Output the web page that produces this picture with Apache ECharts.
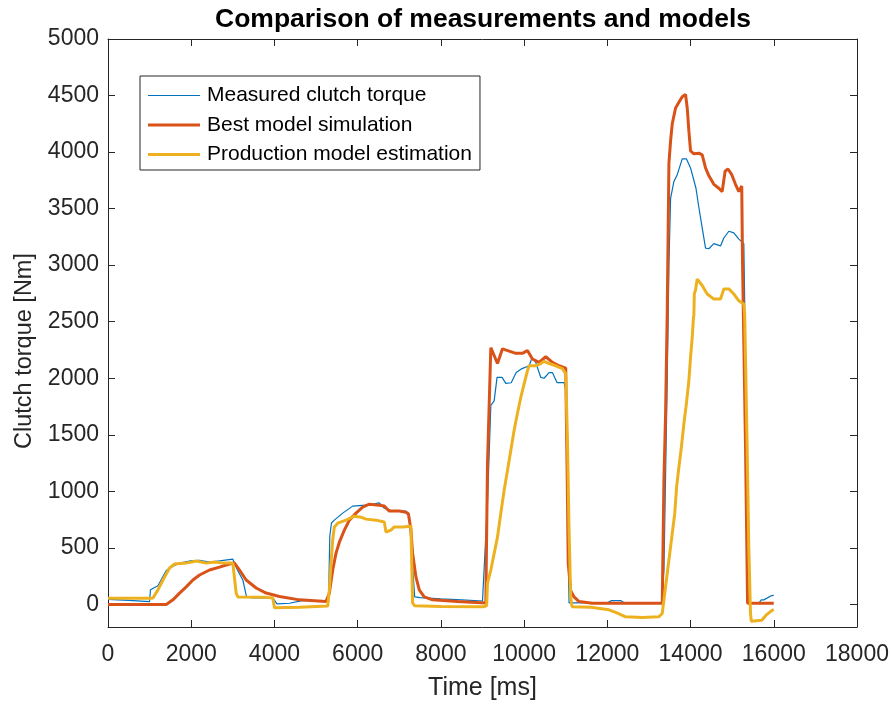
<!DOCTYPE html>
<html>
<head>
<meta charset="utf-8">
<script src="https://cdn.jsdelivr.net/npm/echarts@6/dist/echarts.min.js"></script>
<style>
  html, body { margin: 0; padding: 0; background: #fff; }
  #chart { width: 891px; height: 704px; }
</style>
</head>
<body>
<div id="chart"></div>
<script>
// tick values
const xTicks = [0, 2000, 4000, 6000, 8000, 10000, 12000, 14000, 16000, 18000];
const yTicks = [0, 500, 1000, 1500, 2000, 2500, 3000, 3500, 4000, 4500, 5000];

// measured clutch torque
const measuredT = [0, 500, 1000, 1020, 1200, 1400, 1530, 1720, 1960, 2200, 2440, 2680, 3000, 3040, 3110, 3240, 3330, 3480, 3960, 4060, 4360, 4700, 5000, 5300,
  5330, 5370, 5440, 5640, 5880, 6200, 6520, 6640, 6840, 7160, 7240, 7290, 7370, 7500, 8000, 8500, 9000, 9040,
  9120, 9200, 9280, 9350, 9470, 9560, 9690, 9810, 9950, 10120, 10190, 10280, 10400, 10480, 10600, 10680, 10790, 10960, 11000, 11080, 11200, 11600, 12000, 12100, 12330, 12400, 13000, 13300,
  13360, 13440, 13480, 13520, 13600, 13680, 13800, 13900, 14000, 14130, 14200, 14280, 14360, 14440, 14560, 14720, 14800, 14920, 15040, 15160, 15280, 15300, 15320, 15370, 15500, 15650, 15700, 15760, 15950, 16000];
const measuredV = [45, 35, 25, 130, 165, 300, 330, 366, 384, 390, 375, 384, 400, 400, 304, 216, 66, 57, 57, 5, 10, 35, 30, 30,
  600, 720, 745, 807, 869, 877, 898, 850, 825, 825, 800, 507, 66, 60, 48, 40, 30, 30,
  900, 1760, 1800, 2007, 2007, 1955, 1960, 2050, 2085, 2110, 2180, 2140, 2007, 2000, 2050, 2050, 1962, 1962, 1900, 13, 13, 15, 15, 33, 33, 15, 15, 15,
  300, 2000, 3000, 3590, 3740, 3800, 3940, 3940, 3860, 3680, 3510, 3330, 3150, 3145, 3190, 3170, 3240, 3300, 3285, 3230, 3190, 2700, 1400, 13, 15, 15, 40, 40, 78, 80];

// best model simulation
const bestT = [0, 1400, 1560, 1720, 1880, 2040, 2200, 2440, 2680, 2920, 3040, 3160, 3320, 3560, 3800, 4120, 4600, 5240,
  5320, 5400, 5480, 5560, 5680, 5800, 5960, 6120, 6280, 6520, 6640, 6760, 7000, 7160, 7220, 7280, 7320, 7400, 7480, 7600, 7800, 8400, 9080,
  9120, 9200, 9240, 9360, 9480, 9640, 9800, 9960, 10080, 10200, 10360, 10520, 10680, 10840, 11000, 11040, 11060, 11120, 11200, 11320, 11640, 13320,
  13360, 13400, 13440, 13480, 13520, 13560, 13640, 13720, 13800, 13880, 13920, 13960, 14000, 14080, 14200, 14280, 14360, 14440, 14560, 14680, 14760, 14830, 14900, 14990, 15080, 15160, 15230, 15250, 15320, 15370, 16000];
const bestV = [0, 0, 40, 100, 155, 216, 260, 304, 330, 357, 366, 304, 216, 145, 100, 70, 40, 25,
  100, 304, 453, 550, 657, 745, 807, 860, 886, 877, 870, 825, 825, 815, 800, 657, 453, 243, 128, 66, 40, 25, 13,
  1250, 2270, 2265, 2130, 2260, 2240, 2220, 2220, 2245, 2170, 2140, 2190, 2140, 2110, 2090, 1000, 365, 120, 66, 25, 10, 10,
  1100, 1690, 2600, 3900, 4100, 4250, 4390, 4440, 4490, 4510, 4390, 4185, 4010, 3985, 3990, 3975, 3860, 3790, 3715, 3680, 3650, 3830, 3850, 3800, 3715, 3650, 3700, 3000, 1420, 10, 10];

// production model estimation (staircase rises kept as read)
const prodT = [0, 1000, 1080, 1200, 1320, 1480, 1600, 1880, 2120, 2360, 2560, 2760, 3000, 3040, 3080, 3120, 3800, 3960, 4000, 4600, 5280,
  5320, 5360, 5400, 5440, 5520, 5720, 5920, 6080, 6200, 6440, 6640, 6680, 6800, 6880, 7080, 7280, 7320, 7370, 8000, 8930,
  9040, 9100, 9120, 9160, 9200, 9240, 9280, 9320, 9360, 9400, 9440, 9480, 9520, 9560, 9600, 9640, 9680, 9720, 9760, 9800, 9840, 9880, 9920, 9960, 10000, 10040, 10080,
  10120, 10280, 10400, 10480, 10600, 10760, 10920, 11000, 11040, 11080, 11120, 11150,
  11600, 12040, 12230, 12440, 12840, 13240, 13320, 13360, 13380, 13410, 13440, 13470, 13500, 13530, 13560, 13590, 13620, 13650, 13665, 13690, 13720, 13750, 13780, 13810,
  13840, 13870, 13900, 13930, 13960, 13985, 14000, 14025, 14040, 14060, 14070, 14080, 14090, 14120, 14160, 14200, 14280, 14400,
  14560, 14720, 14800, 14920, 15040, 15160, 15280, 15300, 15320, 15360, 15400, 15440, 15460, 15710, 15830, 15950, 16000];
const prodV = [55, 55, 57, 128, 216, 322, 357, 365, 384, 365, 375, 365, 365, 348, 100, 66, 62, 57, -30, -25, -15,
  128, 366, 570, 685, 718, 745, 780, 771, 754, 745, 728, 640, 657, 685, 685, 690, 13, -13, -18, -20,
  -20, -10, 190, 200, 304, 314, 450, 460, 595, 605, 807, 815, 1010, 1020, 1185, 1195, 1360, 1370, 1540, 1550, 1690, 1700, 1830, 1840, 1950, 1960, 2065,
  2110, 2110, 2130, 2150, 2130, 2110, 2085, 2040, 1480, 655, 65, -20,
  -25, -48, -75, -110, -115, -110, -80, -70, 99, 109, 275, 285, 451, 460, 628, 640, 804, 815, 1039, 1050, 1215, 1225, 1392, 1400,
  1598, 1610, 1775, 1785, 1980, 1990, 2186, 2200, 2362, 2370, 2538, 2560, 2745, 2780, 2877, 2870, 2820, 2745,
  2700, 2700, 2790, 2790, 2745, 2685, 2655, 2570, 2180, 1390, 507, -75, -150, -140, -90, -55, -45];

const zip = (ts, vs) => ts.map((t, i) => [t, vs[i]]);

const axisColor = '#262626';
const fontFamily = 'Liberation Sans, Arial, sans-serif';

const chart = echarts.init(document.getElementById('chart'));

const baseX = {
  type: 'value',
  min: 0,
  max: 18000,
  interval: 2000,
  axisLine: { show: true, onZero: false, lineStyle: { color: axisColor, width: 1 } },
  axisTick: { show: true, inside: true, length: 7, lineStyle: { color: axisColor } },
  splitLine: { show: false },
};
const baseY = {
  type: 'value',
  min: -200,
  max: 5000,
  axisLine: { show: true, onZero: false, lineStyle: { color: axisColor, width: 1 } },
  axisTick: { show: true, inside: true, length: 7, customValues: yTicks, lineStyle: { color: axisColor } },
  splitLine: { show: false },
};

const option = {
  animation: false,
  backgroundColor: '#fff',
  title: {
    text: 'Comparison of measurements and models',
    left: 478,
    textAlign: 'center',
    top: 1,
    textStyle: { fontFamily, fontSize: 26.5, fontWeight: 'bold', color: '#000' },
  },
  legend: {
    orient: 'vertical',
    left: 140,
    top: 76,
    padding: [9, 8, 5, 8],
    itemWidth: 52,
    itemHeight: 14,
    itemGap: 8.5,
    selectedMode: false,
    backgroundColor: '#fff',
    borderColor: axisColor,
    borderWidth: 1,
    borderRadius: 0,
    textStyle: { fontFamily, fontSize: 21, lineHeight: 21, color: '#000', padding: [0, 0, 0, 2] },
    data: [
      { name: 'Measured clutch torque', icon: 'path://M0,0h52v1.2h-52z' },
      { name: 'Best model simulation', icon: 'path://M0,0h52v3h-52z' },
      { name: 'Production model estimation', icon: 'path://M0,0h52v3h-52z' },
    ],
  },
  grid: { left: 108, top: 39, right: 34, bottom: 77, outerBoundsMode: 'none', containLabel: false },
  xAxis: [
    Object.assign({}, baseX, {
      position: 'bottom',
      name: 'Time [ms]',
      nameLocation: 'middle',
      nameGap: 49,
      nameTextStyle: { fontFamily, fontSize: 25, color: axisColor },
      axisLabel: { fontFamily, fontSize: 23, color: axisColor, margin: 16, formatter: (v) => String(v) },
    }),
    Object.assign({}, baseX, { position: 'top', axisLabel: { show: false } }),
  ],
  yAxis: [
    Object.assign({}, baseY, {
      position: 'left',
      name: 'Clutch torque [Nm]',
      nameLocation: 'middle',
      nameGap: 60,
      nameTextStyle: { fontFamily, fontSize: 23.5, color: axisColor, padding: [0, 36, 0, 0] },
      axisLabel: { fontFamily, fontSize: 23, color: axisColor, margin: 9, customValues: yTicks, formatter: (v) => String(v) },
    }),
    Object.assign({}, baseY, { position: 'right', axisLabel: { show: false } }),
  ],
  series: [
    {
      name: 'Measured clutch torque',
      type: 'line',
      symbol: 'none',
      showSymbol: false,
      data: zip(measuredT, measuredV),
      lineStyle: { color: '#0072BD', width: 1.2 },
      itemStyle: { color: '#0072BD' },
    },
    {
      name: 'Best model simulation',
      type: 'line',
      symbol: 'none',
      showSymbol: false,
      data: zip(bestT, bestV),
      lineStyle: { color: '#D95319', width: 3 },
      itemStyle: { color: '#D95319' },
    },
    {
      name: 'Production model estimation',
      type: 'line',
      symbol: 'none',
      showSymbol: false,
      data: zip(prodT, prodV),
      lineStyle: { color: '#EDB120', width: 3 },
      itemStyle: { color: '#EDB120' },
    },
  ],
};

chart.setOption(option);
</script>
</body>
</html>
